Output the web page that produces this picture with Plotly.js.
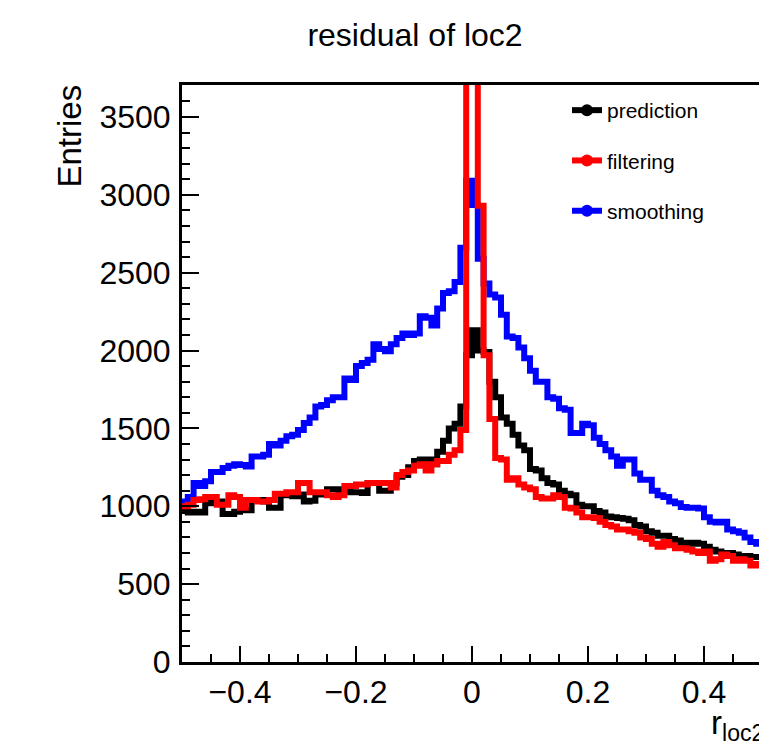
<!DOCTYPE html>
<html><head><meta charset="utf-8">
<script src="https://cdn.plot.ly/plotly-3.0.1.min.js"></script>
<style>html,body{margin:0;padding:0;overflow:hidden;background:#fff}#chart{width:820px;height:741px}</style>
</head><body><div id="chart"></div>
<script>
// Histogram binning: 100 bins from -0.5 to 0.5
const binLow = -0.5;
const binWidth = 0.01;
const seriesNames = ['prediction', 'filtering', 'smoothing'];
const prediction = [970,960,965,960,1020,1030,1030,950,950,965,
  975,975,1040,1040,1030,990,990,1070,1070,1065,
  1075,1030,1035,1080,1075,1110,1110,1105,1110,1090,
  1090,1085,1150,1150,1100,1100,1150,1190,1200,1250,
  1290,1300,1300,1270,1350,1420,1500,1530,1640,1970,
  2130,2000,1990,1800,1700,1570,1530,1460,1390,1360,
  1240,1230,1180,1150,1140,1100,1080,1070,1010,1000,
  1000,970,960,935,930,925,920,910,880,870,
  840,830,810,810,790,780,765,760,765,760,
  740,720,710,700,700,690,680,680,675,675];
const filtering = [1000,1010,1040,1045,1060,1060,1010,1010,1070,1060,
  990,1040,1040,1030,1030,1040,1080,1080,1090,1090,
  1150,1150,1090,1090,1090,1070,1060,1070,1130,1130,
  1140,1140,1150,1150,1150,1150,1120,1200,1220,1230,
  1260,1270,1230,1270,1290,1290,1330,1360,1490,4800,
  4600,2930,1970,1560,1310,1300,1170,1180,1140,1120,
  1110,1060,1050,1050,1070,1060,990,985,960,930,
  930,925,900,880,870,850,850,840,830,800,
  790,760,740,770,750,730,730,720,710,700,
  710,650,660,690,680,650,660,650,620,630];
const smoothing = [1030,1060,1150,1130,1160,1220,1220,1245,1260,1270,
  1265,1255,1320,1320,1330,1400,1390,1420,1450,1460,
  1490,1535,1570,1640,1650,1680,1700,1700,1820,1810,
  1900,1920,1940,2040,2010,1995,2040,2080,2110,2100,
  2110,2220,2210,2160,2270,2370,2380,2440,2660,3090,
  2935,2590,2430,2360,2340,2230,2090,2080,2020,1950,
  1870,1800,1800,1700,1690,1630,1620,1470,1470,1530,
  1520,1440,1400,1360,1320,1260,1300,1300,1210,1170,
  1170,1100,1070,1060,1030,1020,995,990,990,985,
  930,900,895,900,850,840,830,800,770,760];
const xTickVals = [-0.4, -0.2, 0, 0.2, 0.4];
const xTickText = ['\u22120.4', '\u22120.2', '0', '0.2', '0.4'];
const yTickVals = [0, 500, 1000, 1500, 2000, 2500, 3000, 3500];

function edges(n) { const e = []; for (let i = 0; i <= n; i++) e.push(+(binLow + i * binWidth).toFixed(4)); return e; }
function stepY(v) { return v.concat([v[v.length - 1]]); }

const colors = {prediction: '#000000', filtering: '#ff0000', smoothing: '#0000ff'};
const dataMap = {prediction, filtering, smoothing};
const drawOrder = ['prediction', 'smoothing', 'filtering'];
const font = 'Liberation Sans, Arial, Helvetica, sans-serif';

const traces = drawOrder.map(n => ({
  type: 'scatter', mode: 'lines', x: edges(dataMap[n].length), y: stepY(dataMap[n]),
  line: {shape: 'hv', color: colors[n], width: 6}, showlegend: false, hoverinfo: 'skip'
}));
seriesNames.forEach((n, i) => traces.push({
  type: 'scatter', mode: 'lines+markers', x: [null], y: [null], name: n,
  legendgroup: 'g' + i, line: {color: colors[n], width: 6}, marker: {color: colors[n], size: 12}
}));

const W = 820, H = 741, L = 182, T = 85, PW = 580, PH = 577;
const layout = {
  width: W, height: H, margin: {l: L, r: W - L - PW, t: T, b: H - T - PH},
  paper_bgcolor: '#fff', plot_bgcolor: '#fff', font: {family: font, color: '#000'},
  title: {text: 'residual of loc2', font: {size: 32, family: font}, xref: 'container', x: 415 / W, xanchor: 'center',
    yref: 'container', y: 1 - 35 / H, yanchor: 'middle'},
  xaxis: {range: [-0.5, 0.5], tickvals: xTickVals, ticktext: xTickText, ticks: 'inside', ticklen: 16, tickwidth: 2,
    tickcolor: '#000', showline: true, linewidth: 3, linecolor: '#000', mirror: true, showgrid: false, zeroline: false,
    tickfont: {size: 32, family: font}, ticklabelstandoff: 0,
    minor: {dtick: 0.05, tick0: 0, ticks: 'inside', ticklen: 8, tickwidth: 2, tickcolor: '#000', showgrid: false}},
  yaxis: {range: [0, 3705], tickvals: yTickVals, ticks: 'inside', ticklen: 17, tickwidth: 2, tickcolor: '#000',
    showline: true, linewidth: 3, linecolor: '#000', mirror: true, showgrid: false, zeroline: false,
    tickfont: {size: 32, family: font}, ticklabelstandoff: 2,
    minor: {dtick: 100, tick0: 0, ticks: 'inside', ticklen: 8, tickwidth: 2, tickcolor: '#000', showgrid: false}},
  showlegend: true,
  legend: {x: (567 - L) / PW, xanchor: 'left', y: 1 - (90 - T) / PH, yanchor: 'top', bgcolor: 'rgba(0,0,0,0)',
    font: {size: 21, family: font}, tracegroupgap: 20, itemwidth: 30},
  annotations: [
    {text: 'Entries', xref: 'paper', x: 0, xshift: -113, xanchor: 'center', yref: 'paper', y: 1, yanchor: 'top',
      yshift: 2, textangle: -90, showarrow: false, font: {size: 33, family: font}},
    {text: 'r<sub>loc2</sub>', xref: 'paper', x: 1, xshift: 4, xanchor: 'right', yref: 'paper', y: 0, yshift: -40,
      yanchor: 'top', showarrow: false, font: {size: 33, family: font}}
  ]
};
Plotly.newPlot('chart', traces, layout, {displayModeBar: false, staticPlot: true});
</script></body></html>
